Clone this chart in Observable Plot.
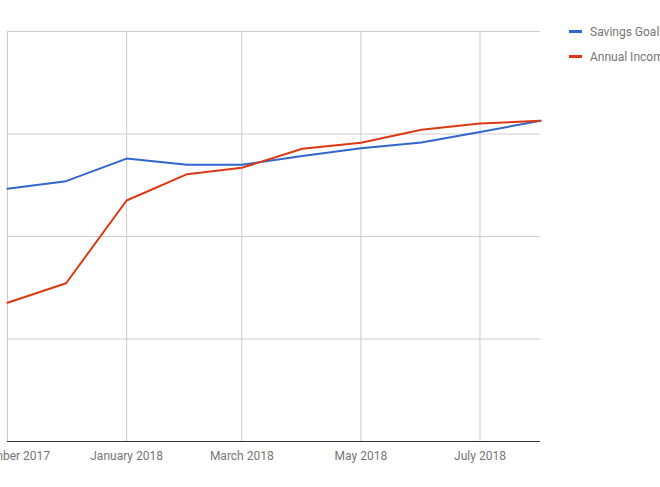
<!DOCTYPE html>
<html>
<head>
<meta charset="utf-8">
<script src="https://cdn.jsdelivr.net/npm/d3@7"></script>
<script src="https://cdn.jsdelivr.net/npm/@observablehq/plot@0.6"></script>
<style>
  html, body { margin: 0; padding: 0; background: #fff; }
  #wrap { position: relative; width: 660px; height: 487px; overflow: hidden; font-family: Roboto, sans-serif; }
  #wrap svg { overflow: hidden; }
  .leg { position: absolute; left: 569px; display: flex; align-items: center; white-space: nowrap; font-size: 12px; color: #757575; }
  .sw { width: 13px; height: 3px; margin-right: 8px; }
</style>
</head>
<body>
<div id="wrap"></div>
<script>
const months = ["2017-11-01","2017-12-01","2018-01-01","2018-02-01","2018-03-01","2018-04-01","2018-05-01","2018-06-01","2018-07-01","2018-08-01"];
const savingsGoal = [24650, 25400, 27600, 27000, 27000, 27850, 28600, 29170, 30200, 31290];
const annualIncome = [13530, 15440, 23510, 26080, 26700, 28560, 29140, 30410, 31020, 31290];
const seriesNames = ["Savings Goal", "Annual Income"];
const seriesColors = ["#3366cc", "#dc3912"];
const xTicks = ["2017-11-01","2018-01-01","2018-03-01","2018-05-01","2018-07-01"];
const yTicks = [0, 10000, 20000, 30000, 40000];

const parse = d3.utcParse("%Y-%m-%d");
const rows = [];
months.forEach((m, i) => {
  rows.push({date: parse(m), value: savingsGoal[i], series: seriesNames[0]});
  rows.push({date: parse(m), value: annualIncome[i], series: seriesNames[1]});
});
const xt = xTicks.map(parse);

const chart = Plot.plot({
  width: 660,
  height: 487,
  marginLeft: 7,
  marginRight: 120,
  marginTop: 31,
  marginBottom: 46,
  style: {fontFamily: "Roboto, sans-serif", fontSize: "12px", background: "#fff", overflow: "hidden"},
  x: {type: "utc", domain: [parse(months[0]), parse(months[months.length - 1])]},
  y: {domain: [0, 40000]},
  color: {domain: seriesNames, range: seriesColors},
  marks: [
    Plot.gridY(yTicks.slice(1), {stroke: "#cccccc", strokeOpacity: 1}),
    Plot.gridX(xt, {stroke: "#cccccc", strokeOpacity: 1}),
    Plot.axisY({ticks: [], label: null, tickSize: 0}),
    Plot.axisX(xt, {tickFormat: d3.utcFormat("%B %Y"), tickSize: 0, tickPadding: 10, label: null, fill: "#757575", fontSize: 12}),
    Plot.ruleY([0], {stroke: "#333333", strokeWidth: 1}),
    Plot.line(rows, {x: "date", y: "value", stroke: "series", z: "series", strokeWidth: 2})
  ]
});
const wrap = document.getElementById("wrap");
wrap.appendChild(chart);

const legTops = [31.5, 56.5];
seriesNames.forEach((name, i) => {
  const d = document.createElement("div");
  d.className = "leg";
  d.style.top = (legTops[i] - 8) + "px";
  d.style.height = "16px";
  d.innerHTML = `<span class="sw" style="background:${seriesColors[i]}"></span><span>${name}</span>`;
  wrap.appendChild(d);
});
</script>
</body>
</html>
